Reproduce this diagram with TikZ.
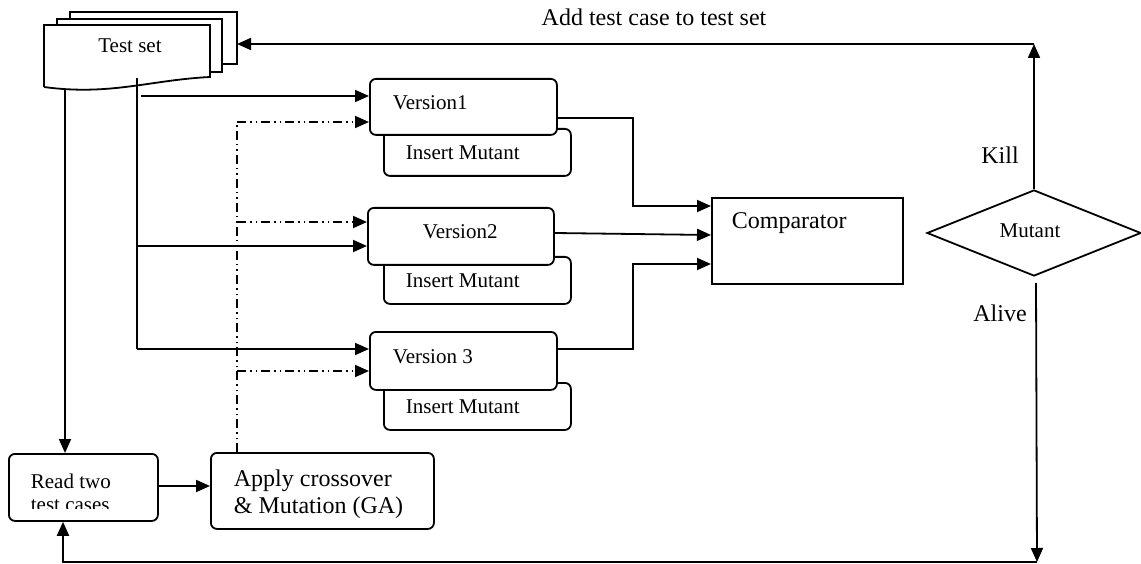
\documentclass[tikz,border=0pt]{standalone}
\usepackage{fontspec}
\setmainfont{Liberation Serif}
\usetikzlibrary{arrows.meta,shapes.geometric}
\begin{document}
\begin{tikzpicture}[x=1pt,y=-1pt, line width=1.8pt,
  box/.style={draw, rounded corners=6pt, fill=white, inner sep=0pt, anchor=north west},
  sheet/.style={draw, fill=white},
  arr/.style={-{Triangle[length=14pt,width=12pt]}},
  dd/.style={dash pattern=on 9pt off 4pt on 1.5pt off 4pt on 1.5pt off 4pt},
  small/.style={font=\fontsize{21}{23}\selectfont, inner sep=0pt},
  big/.style={font=\fontsize{24}{27}\selectfont, inner sep=0pt}]
\useasboundingbox (0,0) rectangle (1141,564);

% Test set (multi-document)
\draw[sheet] (70,12) rectangle (237,64);
\draw[sheet] (57,19) rectangle (222,72);
\draw[sheet] (44,87) -- (44,25) -- (210,25) -- (210,77)
  .. controls (150,80) and (110,96) .. (44,87);
\node[small] (ts) at (130,46) {Test set};
\coordinate (tsR) at (237,44);
\coordinate (tsA) at (65,89);
\coordinate (tsB) at (137,78);

% Version boxes
\node[box, minimum width=187pt, minimum height=47pt] (i1) at (383,128) {};
\node[box, minimum width=187pt, minimum height=56pt] (v1) at (369,78) {};
\node[box, minimum width=187pt, minimum height=47pt] (i2) at (383,256) {};
\node[box, minimum width=186pt, minimum height=57pt] (v2) at (367,207) {};
\node[box, minimum width=187pt, minimum height=47pt] (i3) at (383,382) {};
\node[box, minimum width=187pt, minimum height=58pt] (v3) at (369,331) {};
\node[small, anchor=west] (v1t) at (392,103) {Version1};
\node[small, anchor=west] (v2t) at (422,232) {Version2};
\node[small, anchor=west] (v3t) at (392,357) {Version 3};
\node[small, anchor=west] (i1t) at (405,153) {Insert Mutant};
\node[small, anchor=west] (i2t) at (405,281) {Insert Mutant};
\node[small, anchor=west] (i3t) at (405,407) {Insert Mutant};

% Comparator
\node[draw, anchor=north west, minimum width=191pt, minimum height=86pt, inner sep=0pt] (cmp) at (711,197) {};
\node[big, anchor=west] (cmpt) at (731,223) {Comparator};

% Mutant decision
\node[draw, diamond, minimum width=214pt, minimum height=86pt, inner sep=0pt] (mut) at (1034,233) {};
\node[small] (mutt) at (1030,231) {Mutant};

% Read / Apply
\node[box, minimum width=149pt, minimum height=67pt] (rd) at (8,453) {};
\begin{scope}
  \clip (8,453) rectangle (157,508);
  \node[small, anchor=north west, align=left, font=\fontsize{21}{23}\selectfont] (rdt) at (30,473) {Read two\\test cases};
\end{scope}
\node[box, minimum width=223pt, minimum height=76pt] (ap) at (210,452) {};
\node[big, anchor=west, align=left] (apt) at (233,494) {Apply crossover\\\& Mutation (GA)};

% coordinates
\coordinate (k) at (1034,44);
\coordinate (al0) at (1036,283);
\coordinate (al) at (1037,562);
\coordinate (bl) at (63,562);

% Test set to versions
\draw (tsB) -- (137,349);
\draw[arr] (141,96) -- (v1.west |- 0,96);
\draw[arr] (137,246) -- (v2.west |- 0,246);
\draw[arr] (137,349) -- (v3.west |- 0,349);
\draw[arr] (tsA) -- (rd.north -| tsA);

% dash-dot from Apply
\draw[dd] (ap.north -| 237,0) -- (237,122);
\draw[dd,arr] (237,122) -- (v1.west |- 0,122);
\draw[dd,arr] (237,222) -- (v2.west |- 0,222);
\draw[dd,arr] (237,371) -- (v3.west |- 0,371);

% Read -> Apply
\draw[arr] (rd.east |- 0,486) -- (ap.west |- 0,486);

% versions -> comparator
\draw[arr] (v1.east |- 0,118) -- (633,118) -- (633,206) -- (cmp.west |- 0,206);
\draw[arr] (v2.east |- 0,233) -- (cmp.west |- 0,235);
\draw[arr] (v3.east |- 0,349) -- (633,349) -- (633,264) -- (cmp.west |- 0,264);

% Kill / Alive
\draw[arr] (mut.north) -- (k);
\draw[arr] (k) -- (tsR);
\node[big] (kill) at (1000,155) {Kill};
\node[big] (addl) at (654,17) {Add test case to test set};
\draw[arr] (al0) -- (al);
\draw[arr] (al) -- (bl) -- (rd.south -| bl);
\node[big] (alive) at (1000,313) {Alive};
\end{tikzpicture}
\end{document}
